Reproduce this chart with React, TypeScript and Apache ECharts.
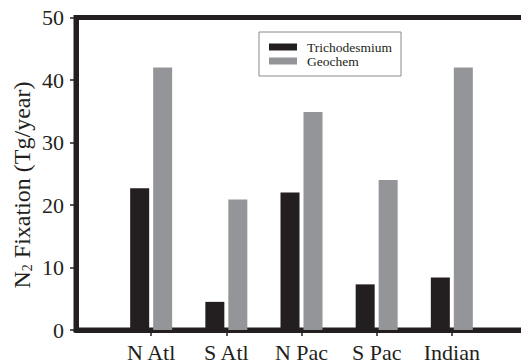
import React, { useEffect, useRef } from "react";
import * as echarts from "echarts";

const categories = ["", "N Atl", "S Atl", "N Pac", "S Pac", "Indian", ""];
const trichodesmium = [null, 22.7, 4.5, 22.0, 7.3, 8.4, null];
const geochem = [null, 42.0, 20.9, 34.9, 24.0, 42.0, null];
const seriesNames = ["Trichodesmium", "Geochem"];
const yTitleParts = ["N", "2", " Fixation (Tg/year)"];

const FONT = "Liberation Serif";
const INK = "#231f20";
const GRAY = "#939598";

export default function App() {
  const ref = useRef<HTMLDivElement>(null);
  useEffect(() => {
    if (!ref.current) return;
    const chart = echarts.init(ref.current, null, { renderer: "svg" });
    chart.setOption({
      animation: false,
      backgroundColor: "#ffffff",
      textStyle: { fontFamily: FONT, color: INK },
      grid: {
        left: 76,
        top: 17.5,
        right: -6,
        bottom: 34,
        containLabel: false,
        outerBoundsMode: "none",
        show: true,
        borderColor: INK,
        borderWidth: 5,
        backgroundColor: "transparent",
      },
      legend: {
        orient: "vertical",
        left: 259,
        top: 32,
        padding: [8, 9, 8, 10],
        itemWidth: 28,
        itemHeight: 7,
        itemGap: 0,
        icon: "rect",
        borderColor: "#8a8a8a",
        borderWidth: 1,
        data: seriesNames,
        formatter: "{t|{name}}",
        textStyle: {
          fontFamily: FONT,
          fontSize: 13.5,
          color: INK,
          rich: {
            t: {
              fontFamily: FONT,
              fontSize: 13.5,
              color: INK,
              lineHeight: 15,
              padding: [0, 0, 0, 5],
            },
          },
        },
      },
      graphic: [
        {
          type: "text",
          x: 22,
          y: 185,
          rotation: Math.PI / 2,
          style: {
            text: `{a|${yTitleParts[0]}}{b|${yTitleParts[1]}}{a|${yTitleParts[2]}}`,
            align: "center",
            verticalAlign: "middle",
            fill: INK,
            rich: {
              a: { fontFamily: FONT, fontSize: 24, fill: INK, color: INK },
              b: {
                fontFamily: FONT,
                fontSize: 14,
                fill: INK,
                color: INK,
                verticalAlign: "bottom",
                padding: [10, 0, 0, 0],
              },
            },
          },
        },
      ],
      xAxis: {
        type: "category",
        data: categories,
        boundaryGap: false,
        axisLine: { show: true, lineStyle: { color: INK, width: 5 } },
        axisTick: {
          show: true,
          length: 6,
          interval: (_i: number, v: string) => v !== "",
          lineStyle: { color: INK, width: 1.5 },
        },
        axisLabel: {
          interval: 0,
          margin: 11,
          fontFamily: FONT,
          fontSize: 22,
          color: INK,
        },
        splitLine: { show: false },
      },
      yAxis: {
        type: "value",
        min: 0,
        max: 50,
        interval: 10,
        axisLine: { show: true, lineStyle: { color: INK, width: 5 } },
        axisTick: { show: true, length: 6, lineStyle: { color: INK, width: 1.5 } },
        axisLabel: { margin: 12, fontFamily: FONT, fontSize: 22, color: INK },
        splitLine: { show: false },
      },
      series: [
        {
          name: seriesNames[0],
          type: "bar",
          data: trichodesmium,
          barWidth: 19,
          barGap: "21%",
          itemStyle: { color: INK },
        },
        {
          name: seriesNames[1],
          type: "bar",
          data: geochem,
          barWidth: 19,
          barGap: "21%",
          itemStyle: { color: GRAY },
        },
      ],
    });
    return () => chart.dispose();
  }, []);
  return (
    <div
      ref={ref}
      style={{ position: "fixed", left: 0, top: 0, width: 521, height: 364 }}
    />
  );
}
